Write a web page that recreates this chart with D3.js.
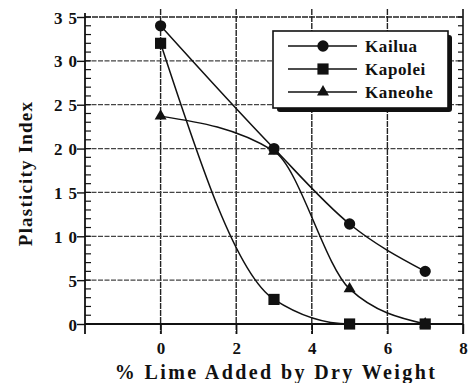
<!DOCTYPE html>
<html><head><meta charset="utf-8">
<script src="https://cdn.jsdelivr.net/npm/d3@7"></script>
<style>body{margin:0;background:#fff}svg{display:block}</style>
</head><body>
<svg id="c" width="471" height="383"></svg>
<script>
const limePct = [0, 3, 5, 7];
const kailua = [34, 20, 11.4, 6];
const kapolei = [32, 2.8, 0, 0];
const kaneohe = [23.7, 19.7, 4, 0];
const seriesNames = ["Kailua", "Kapolei", "Kaneohe"];
const xTicks = [0, 2, 4, 6, 8];
const yTicks = [0, 5, 10, 15, 20, 25, 30, 35];

const svg = d3.select("#c");
const L = 85, R = 463, T = 17, B = 324;
const x = d3.scaleLinear().domain([-2, 8]).range([L, R]);
const y = d3.scaleLinear().domain([0, 35]).range([B, T]);
const font = "'Liberation Serif', 'DejaVu Serif', serif";
const ink = "#111";

// grid
const g = svg.append("g");
g.selectAll(".gx").data(xTicks.filter(d => d > -2 && d < 8)).enter().append("line")
  .attr("x1", d => x(d)).attr("x2", d => x(d)).attr("y1", T - 8).attr("y2", B + 10)
  .attr("stroke", "#222").attr("stroke-width", 1.4).attr("stroke-dasharray", "6,1");
g.selectAll(".gy").data(yTicks.filter(d => d > 0 && d < 35)).enter().append("line")
  .attr("x1", L).attr("x2", R).attr("y1", d => y(d)).attr("y2", d => y(d))
  .attr("stroke", "#444").attr("stroke-width", 1.3).attr("stroke-dasharray", "5,1.5");
g.append("line").attr("x1", L).attr("x2", R).attr("y1", y(35)).attr("y2", y(35))
  .attr("stroke", "#222").attr("stroke-width", 1.6).attr("stroke-dasharray", "6,1");

// right axis line + minor ticks
svg.append("line").attr("x1", R).attr("x2", R).attr("y1", T - 8).attr("y2", B + 10)
  .attr("stroke", ink).attr("stroke-width", 1.6);
const minor = d3.range(0, 36, 1);
svg.selectAll(".mr").data(minor).enter().append("line")
  .attr("x1", R - 5).attr("x2", R).attr("y1", d => y(d)).attr("y2", d => y(d))
  .attr("stroke", ink).attr("stroke-width", 1.2);

// bottom axis
svg.append("line").attr("x1", L).attr("x2", R).attr("y1", B).attr("y2", B)
  .attr("stroke", ink).attr("stroke-width", 1.8);

// x axis labels via d3 axis
const xAxis = svg.append("g").attr("transform", `translate(0,${B})`)
  .call(d3.axisBottom(x).tickValues(xTicks).tickSize(10).tickPadding(8).tickFormat(d3.format("d")));
xAxis.select(".domain").remove();
xAxis.selectAll(".tick line").attr("stroke", ink).attr("stroke-width", 1.4);
xAxis.selectAll("text").attr("font-family", font).attr("font-weight", "bold")
  .attr("font-size", 17).attr("fill", ink);

// left axis
const yAxis = svg.append("g").attr("transform", `translate(${L},0)`)
  .call(d3.axisLeft(y).tickValues(yTicks).tickSize(8).tickPadding(-6).tickFormat(d3.format("d")));
yAxis.select(".domain").remove();
yAxis.selectAll(".tick line").attr("stroke", ink).attr("stroke-width", 1.4);
yAxis.selectAll("text").attr("font-family", font).attr("font-weight", "bold")
  .attr("font-size", 17).attr("fill", ink).attr("letter-spacing", "6px").attr("dy", "0.36em");
svg.append("line").attr("x1", L).attr("x2", L).attr("y1", T - 4).attr("y2", B + 10)
  .attr("stroke", ink).attr("stroke-width", 1.8);
svg.selectAll(".ml").data(minor).enter().append("line")
  .attr("x1", L).attr("x2", L + 6).attr("y1", d => y(d)).attr("y2", d => y(d))
  .attr("stroke", ink).attr("stroke-width", 1.2);

// titles
svg.append("text").attr("x", x(3) + 2).attr("y", 379).attr("text-anchor", "middle")
  .attr("font-family", font).attr("font-weight", "bold").attr("font-size", 20)
  .attr("letter-spacing", "2.4px").attr("fill", ink).text("% Lime Added by Dry Weight");
svg.append("text").attr("transform", `translate(32,${(T + B) / 2 + 3}) rotate(-90)`)
  .attr("text-anchor", "middle").attr("font-family", font).attr("font-weight", "bold")
  .attr("font-size", 19).attr("letter-spacing", "1.2px").attr("fill", ink).text("Plasticity Index");

// series (drawn back to front)
const data = [kailua, kapolei, kaneohe];
const shapes = [d3.symbolCircle, d3.symbolSquare, d3.symbolTriangle];
const sizes = [100, 125, 62];
const line = d3.line().x(d => x(d[0])).y(d => y(d[1])).curve(d3.curveMonotoneX);
[2, 1, 0].forEach(i => {
  const vals = data[i];
  const pts = limePct.map((p, j) => [p, vals[j]]);
  svg.append("path").attr("d", line(pts)).attr("fill", "none")
    .attr("stroke", ink).attr("stroke-width", 1.5);
  svg.selectAll(".m" + i).data(pts).enter().append("path")
    .attr("transform", d => `translate(${x(d[0])},${y(d[1])})`)
    .attr("d", d3.symbol().type(shapes[i]).size(sizes[i])).attr("fill", ink);
});

// legend
const lg = svg.append("g");
lg.append("rect").attr("x", 277).attr("y", 35).attr("width", 175).attr("height", 77)
  .attr("rx", 3).attr("fill", ink);
lg.append("rect").attr("x", 273).attr("y", 31).attr("width", 175).attr("height", 77)
  .attr("fill", "#fff").attr("stroke", ink).attr("stroke-width", 1.6);
seriesNames.forEach((n, i) => {
  const cy = 46 + i * 23;
  lg.append("line").attr("x1", 288).attr("x2", 357).attr("y1", cy).attr("y2", cy)
    .attr("stroke", ink).attr("stroke-width", 1.3);
  lg.append("path").attr("transform", `translate(323,${cy})`)
    .attr("d", d3.symbol().type(shapes[i]).size(sizes[i])).attr("fill", ink);
  lg.append("text").attr("x", 365).attr("y", cy).attr("dy", "0.35em")
    .attr("font-family", font).attr("font-weight", "bold").attr("font-size", 17)
    .attr("letter-spacing", "0.6px").attr("fill", ink).text(n);
});
</script>
</body></html>
